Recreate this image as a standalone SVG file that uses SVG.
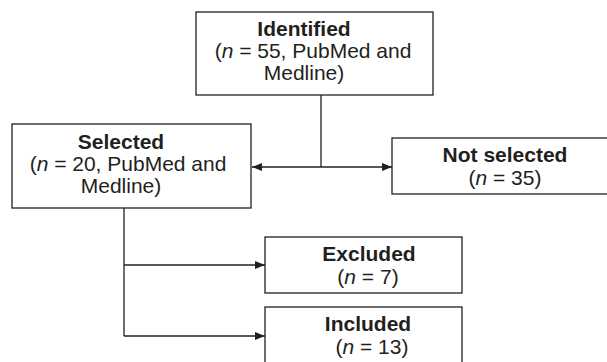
<svg xmlns="http://www.w3.org/2000/svg" width="607" height="362" viewBox="0 0 607 362">
<defs>
<marker id="arr" viewBox="0 0 10 8" refX="10" refY="4" markerWidth="10" markerHeight="8" markerUnits="userSpaceOnUse" orient="auto-start-reverse">
<path d="M0,0 L10,4 L0,8 z" fill="#231f20"/>
</marker>
<style>
.box{fill:#fff;stroke:#231f20;stroke-width:1.3}
.t{font-family:"Liberation Sans",Arial,sans-serif;font-size:21px;fill:#231f20;text-anchor:middle}
.b{font-weight:bold}
.i{font-style:italic}
.c{fill:none;stroke:#231f20;stroke-width:1.3}
</style>
</defs>
<rect width="607" height="362" fill="#fff"/>
<g id="connectors">
<path class="c" d="M321,95 V167"/>
<path class="c" d="M252,167 H392" marker-start="url(#arr)" marker-end="url(#arr)"/>
<path class="c" d="M124,208 V336"/>
<path class="c" d="M124,265 H265" marker-end="url(#arr)"/>
<path class="c" d="M124,336 H265" marker-end="url(#arr)"/>
</g>
<g id="identified">
<rect class="box" x="196" y="12" width="237" height="83"/>
<text class="t b" x="304" y="36">Identified</text>
<text class="t" x="313" y="58">(<tspan class="i">n</tspan> = 55, PubMed and</text>
<text class="t" x="304" y="80">Medline)</text>
</g>
<g id="selected">
<rect class="box" x="12" y="124" width="239" height="84"/>
<text class="t b" x="121" y="149">Selected</text>
<text class="t" x="128" y="171">(<tspan class="i">n</tspan> = 20, PubMed and</text>
<text class="t" x="121" y="193">Medline)</text>
</g>
<g id="not-selected">
<rect class="box" x="392" y="138" width="230" height="56"/>
<text class="t b" x="505" y="162">Not selected</text>
<text class="t" x="505" y="185">(<tspan class="i">n</tspan> = 35)</text>
</g>
<g id="excluded">
<rect class="box" x="265" y="237" width="197" height="56"/>
<text class="t b" x="369" y="261">Excluded</text>
<text class="t" x="368" y="284">(<tspan class="i">n</tspan> = 7)</text>
</g>
<g id="included">
<rect class="box" x="265" y="307" width="197" height="60"/>
<text class="t b" x="368" y="331">Included</text>
<text class="t" x="372" y="354">(<tspan class="i">n</tspan> = 13)</text>
</g>
</svg>
